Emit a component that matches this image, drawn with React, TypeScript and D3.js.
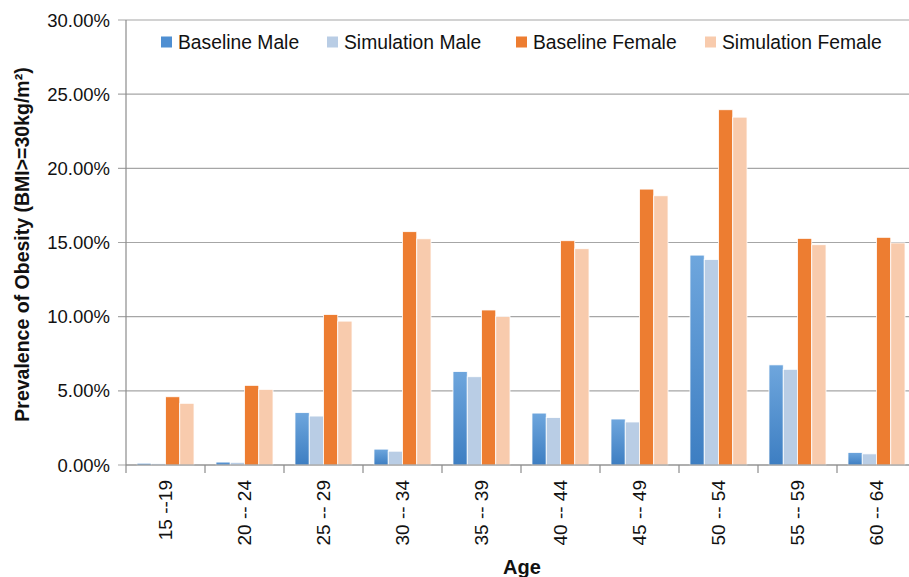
import React from "react";
import * as d3 from "d3";

const categories = ["15 --19", "20 -- 24", "25 -- 29", "30 -- 34", "35 -- 39", "40 -- 44", "45 -- 49", "50 -- 54", "55 -- 59", "60 -- 64"];
const baselineMale = [0.12, 0.2, 3.53, 1.07, 6.3, 3.5, 3.1, 14.15, 6.75, 0.85];
const simulationMale = [0.1, 0.18, 3.3, 0.93, 5.95, 3.2, 2.9, 13.85, 6.45, 0.75];
const baselineFemale = [4.6, 5.37, 10.15, 15.73, 10.45, 15.12, 18.6, 23.95, 15.28, 15.35];
const simulationFemale = [4.16, 5.1, 9.7, 15.25, 10.02, 14.58, 18.15, 23.45, 14.85, 14.97];
const seriesNames = ["Baseline Male", "Simulation Male", "Baseline Female", "Simulation Female"];
const yTicks = [0, 5, 10, 15, 20, 25, 30];

const seriesValues = [baselineMale, simulationMale, baselineFemale, simulationFemale];
const fills = ["url(#blueGrad)", "#b9cde5", "#ed7d31", "#f8cbad"];
const legendSwatch = ["#4f8fd2", "#b9cde5", "#ed7d31", "#f8cbad"];
const legendX = [161, 327, 516, 705];

const W = 909;
const H = 577;
const left = 126;
const right = 916;
const top = 20;
const bottom = 465;
const FONT = "'Liberation Sans', Arial, sans-serif";

export default function App() {
  const x = d3.scaleBand<string>().domain(categories).range([left, right]).paddingInner(0.278).paddingOuter(0.139);
  const xs = d3.scaleBand<string>().domain(seriesNames).range([0, x.bandwidth()]).padding(0);
  const y = d3.scaleLinear().domain([0, 30]).range([bottom, top]);
  const step = x.step();

  return (
    <svg width={W} height={H} style={{ position: "absolute", left: 0, top: 0, background: "#fff" }} fontFamily={FONT}>
      <defs>
        <linearGradient id="blueGrad" x1="0" y1="0" x2="0" y2="1">
          <stop offset="0" stopColor="#6ea6dd" />
          <stop offset="1" stopColor="#3d7ec2" />
        </linearGradient>
      </defs>
      {yTicks.map((t) => (
        <line key={"g" + t} x1={left - 8} x2={W} y1={y(t)} y2={y(t)} stroke="#a6a6a6" strokeWidth={1.2} />
      ))}
      {yTicks.map((t) => (
        <text key={"yl" + t} x={110} y={y(t)} dy="0.36em" textAnchor="end" fontSize={18.5} fill="#111">
          {t.toFixed(2) + "%"}
        </text>
      ))}
      {categories.map((c, i) => (
        <g key={c} transform={`translate(${x(c)},0)`}>
          {seriesNames.map((s, k) => {
            const v = seriesValues[k][i];
            return (
              <rect
                key={s}
                x={xs(s)}
                y={y(v)}
                width={xs.bandwidth()}
                height={bottom - y(v)}
                fill={fills[k]}
                stroke="#fff"
                strokeWidth={0.8}
              />
            );
          })}
        </g>
      ))}
      <line x1={left} x2={left} y1={top} y2={bottom} stroke="#8c8c8c" strokeWidth={1.2} />
      <line x1={left} x2={W} y1={bottom} y2={bottom} stroke="#8c8c8c" strokeWidth={1.2} />
      {categories.map((c, i) => (
        <line key={"xt" + c} x1={left + i * step} x2={left + i * step} y1={bottom} y2={bottom + 8} stroke="#8c8c8c" strokeWidth={1.2} />
      ))}
      {categories.map((c) => {
        const cx = (x(c) as number) + x.bandwidth() / 2;
        return (
          <text key={"xl" + c} transform={`translate(${cx},${480}) rotate(-90)`} textAnchor="end" dy="0.36em" fontSize={19} fill="#111">
            {c}
          </text>
        );
      })}
      <text transform={`translate(22,${(top + bottom) / 2 + 2}) rotate(-90)`} textAnchor="middle" dy="0.36em" fontSize={19.5} fontWeight="bold" fill="#111">
        Prevalence of Obesity (BMI&gt;=30kg/m²)
      </text>
      <text x={522} y={574} textAnchor="middle" fontSize={20} fontWeight="bold" fill="#111">
        Age
      </text>
      {seriesNames.map((s, k) => (
        <g key={"lg" + s} transform={`translate(${legendX[k]},42)`}>
          <rect x={0} y={-5.5} width={11} height={11} fill={legendSwatch[k]} />
          <text x={17} y={0} dy="0.36em" fontSize={19.3} fill="#111">
            {s}
          </text>
        </g>
      ))}
    </svg>
  );
}
